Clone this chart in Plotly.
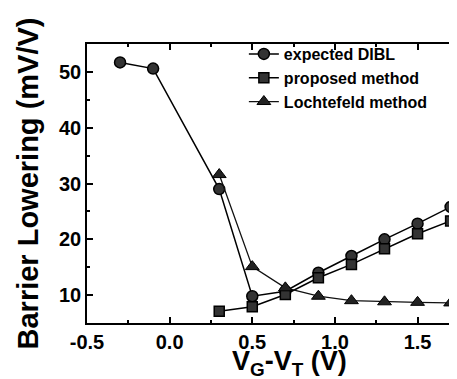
import plotly.graph_objects as go

x_dibl = [-0.3, -0.1, 0.3, 0.5, 0.7, 0.9, 1.1, 1.3, 1.5, 1.7]
y_dibl = [51.7, 50.6, 29.0, 9.8, 10.7, 14.0, 17.0, 20.0, 22.8, 25.8]
x_prop = [0.3, 0.5, 0.7, 0.9, 1.1, 1.3, 1.5, 1.7]
y_prop = [7.1, 7.9, 10.1, 13.1, 15.5, 18.3, 21.0, 23.3]
x_loch = [0.3, 0.5, 0.7, 0.9, 1.1, 1.3, 1.5, 1.7]
y_loch = [31.6, 15.1, 11.3, 9.8, 9.0, 8.8, 8.7, 8.6]

FONT = "Liberation Sans, Arial, sans-serif"

fig = go.Figure()
fig.add_trace(go.Scatter(x=x_dibl, y=y_dibl, name="expected DIBL", mode="lines+markers",
                         line=dict(color="black", width=1.5),
                         marker=dict(symbol="circle", size=11, color="#333",
                                     line=dict(color="black", width=1.5))))
fig.add_trace(go.Scatter(x=x_prop, y=y_prop, name="proposed method", mode="lines+markers",
                         line=dict(color="black", width=1.5),
                         marker=dict(symbol="square", size=10, color="#333",
                                     line=dict(color="black", width=1.5))))
fig.add_trace(go.Scatter(x=x_loch, y=y_loch, name="Lochtefeld method", mode="lines+markers",
                         line=dict(color="#111", width=1.3),
                         marker=dict(symbol="triangle-up", size=12, color="#222",
                                     line=dict(color="black", width=1))))

fig.update_layout(
    width=457, height=379,
    margin=dict(l=79, r=0, t=36, b=64, autoexpand=False),
    paper_bgcolor="white", plot_bgcolor="white",
    font=dict(family=FONT, color="black"),
    showlegend=True,
    legend=dict(x=0.415, y=1.025, xanchor="left", yanchor="top",
                bgcolor="rgba(0,0,0,0)", borderwidth=0,
                font=dict(family=FONT, size=16, weight="bold"),
                tracegroupgap=0, itemwidth=30),
    annotations=[dict(text="V<sub>G</sub>-V<sub>T</sub> (V)", xref="paper", yref="paper",
                      x=0.536, y=-0.075, xanchor="center", yanchor="top", showarrow=False,
                      font=dict(family=FONT, size=27, weight="bold"))],
)
fig.update_xaxes(range=[-0.5, 1.787], tickvals=[-0.5, 0.0, 0.5, 1.0, 1.5],
                 ticktext=["-0.5", "0.0", "0.5", "1.0", "1.5"],
                 ticks="inside", ticklen=6, tickwidth=1.5, tickcolor="black",
                 minor=dict(dtick=0.25, tick0=0, ticks="inside", ticklen=3, tickcolor="black"),
                 showline=True, linecolor="black", linewidth=1.5, mirror="ticks",
                 showgrid=False, zeroline=False, automargin=False,
                 tickfont=dict(family=FONT, size=20, weight="bold"))
fig.update_yaxes(range=[5, 55], tickvals=[10, 20, 30, 40, 50],
                 ticks="inside", ticklen=6, tickwidth=1.5, tickcolor="black",
                 minor=dict(dtick=5, tick0=0, ticks="inside", ticklen=3, tickcolor="black"),
                 showline=True, linecolor="black", linewidth=1.5, mirror="ticks",
                 showgrid=False, zeroline=False, automargin=False,
                 tickfont=dict(family=FONT, size=20, weight="bold"),
                 title=dict(text="Barrier Lowering (mV/V)", standoff=12,
                            font=dict(family=FONT, size=29, weight="bold")))

fig.write_html("out.html")
